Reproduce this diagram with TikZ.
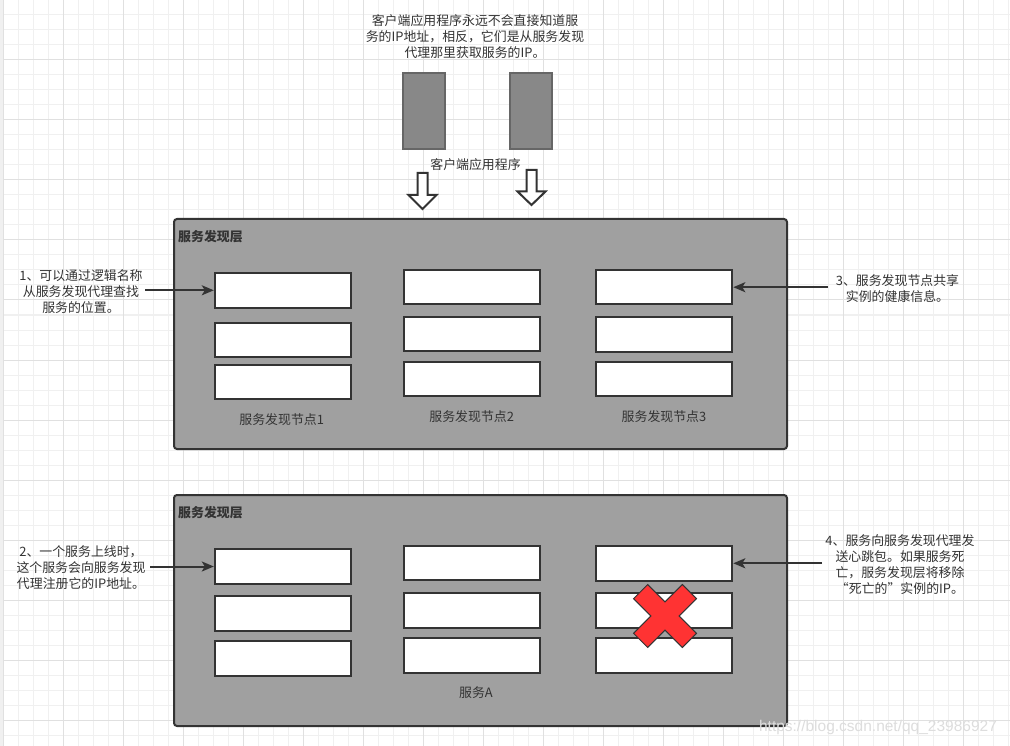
\documentclass[tikz,border=0pt]{standalone}
\usepackage{fontspec}
\setmainfont{Noto Sans CJK SC}
\newfontfamily\wmfont{Liberation Sans}
\usetikzlibrary{arrows.meta}
\definecolor{ink}{HTML}{333333}
\definecolor{layerfill}{HTML}{A0A0A0}
\definecolor{clientfill}{HTML}{888888}
\definecolor{clientline}{HTML}{666666}
\definecolor{gridminor}{HTML}{F0F0F0}
\definecolor{gridmajor}{HTML}{E0E0E0}
\definecolor{xred}{HTML}{FF3333}
\definecolor{wmcol}{HTML}{DDDDDD}
\tikzset{
  gminor/.style={draw=gridminor, line width=1pt},
  gmajor/.style={draw=gridmajor, line width=1pt},
  layerbox/.style={draw=ink, fill=layerfill, line width=2pt, rounded corners=3pt, minimum width=613pt, minimum height=230pt, inner sep=0pt},
  inst/.style={draw=ink, fill=white, line width=2pt, minimum width=136pt, minimum height=34.5pt, inner sep=0pt},
  client/.style={draw=clientline, fill=clientfill, line width=2pt, minimum width=42pt, minimum height=76pt, inner sep=0pt},
  txt/.style={text=ink, font=\fontsize{12.9}{16}\selectfont, align=center, inner sep=0pt},
  titletxt/.style={text=ink, font=\bfseries\fontsize{12.9}{16}\selectfont, inner sep=0pt, anchor=west},
  hollow/.style={draw=ink, fill=white, line width=2pt, line join=miter},
  conn/.style={draw=ink, line width=2pt, -{Stealth[length=12pt,width=10pt,inset=3pt]}},
  redx/.style={draw=ink, fill=xred, line width=1pt, line join=miter},
  wm/.style={text=wmcol, font=\wmfont\fontsize{15.5}{18}\selectfont, inner sep=0pt}
}
\begin{document}
\begin{tikzpicture}[x=1pt,y=-1pt]
\useasboundingbox (0,0) rectangle (1010,746);
\fill[white] (0,0) rectangle (1010,746);
% grid
\foreach \x in {3,18,...,1008} \draw[gminor] (\x,0) -- (\x,746);
\foreach \y in {0,15,...,745} \draw[gminor] (0,\y) -- (1010,\y);
\foreach \x in {3,63,...,1008} \draw[gmajor] (\x,0) -- (\x,746);
\foreach \y in {0,60,...,745} \draw[gmajor] (0,\y) -- (1010,\y);
\fill[gridminor] (0,0) rectangle (3,746);

% top note
\node[txt] (note) at (475,36.7) {客户端应用程序永远不会直接知道服\\务的IP地址，相反，它们是从服务发现\\代理那里获取服务的IP。};

% clients
\node[client] (cl1) at (424,111) {};
\node[client] (cl2) at (531,111) {};
\node[txt] (cllabel) at (475.5,165) {客户端应用程序};

% hollow arrows
\draw[hollow] (417.5,173) -- (427.5,173) -- (427.5,195) -- (436.5,195) -- (422.5,209) -- (408.5,195) -- (417.5,195) -- cycle;
\draw[hollow] (526.5,170) -- (536.5,170) -- (536.5,191.5) -- (545.5,191.5) -- (531.5,205) -- (517.5,191.5) -- (526.5,191.5) -- cycle;

% upper layer
\node[layerbox] (L1) at (480.5,334) {};
\node[titletxt] (L1t) at (178,236.5) {服务发现层};
\node[inst] (a1) at (282.8,290.3) {};
\node[inst] (a2) at (282.8,340.2) {};
\node[inst] (a3) at (282.8,382.2) {};
\node[inst] (b1) at (471.5,287.2) {};
\node[inst] (b2) at (471.5,334.2) {};
\node[inst] (b3) at (471.5,379.2) {};
\node[inst] (c1) at (664.3,287.2) {};
\node[inst] (c2) at (664.3,334.3) {};
\node[inst] (c3) at (664.3,379.2) {};
\node[txt] (n1) at (281.7,420) {服务发现节点1};
\node[txt] (n2) at (471.7,416.7) {服务发现节点2};
\node[txt] (n3) at (664,416.7) {服务发现节点3};

% lower layer
\node[layerbox, minimum height=231pt] (L2) at (480.5,610.5) {};
\node[titletxt] (L2t) at (178,512.5) {服务发现层};
\node[inst] (d1) at (282.8,566.5) {};
\node[inst] (d2) at (282.8,613.5) {};
\node[inst] (d3) at (282.8,658.4) {};
\node[inst] (e1) at (471.5,563.2) {};
\node[inst] (e2) at (471.5,610.3) {};
\node[inst] (e3) at (471.5,655.3) {};
\node[inst] (f1) at (664.3,563.3) {};
\node[inst] (f2) at (664.3,610.5) {};
\node[inst] (f3) at (664.3,655.5) {};
\node[txt] (svcA) at (476,693) {服务A};

% red X
\begin{scope}[shift={(665,616)}, rotate=45]
\draw[redx] (10,34.5) -- (10,10) -- (34.5,10) -- (34.5,-10) -- (10,-10) -- (10,-34.5) -- (-10,-34.5) -- (-10,-10) -- (-34.5,-10) -- (-34.5,10) -- (-10,10) -- (-10,34.5) -- cycle;
\end{scope}

% annotations
\node[txt] (t1) at (81,292) {1、可以通过逻辑名称\\从服务发现代理查找\\服务的位置。};
\coordinate (s1) at (145,290.3);
\draw[conn] (s1) -- (a1.west);

\node[txt] (t3) at (897.5,288.7) {3、服务发现节点共享\\实例的健康信息。};
\coordinate (s3) at (828,287.2);
\draw[conn] (s3) -- (c1.east);

\node[txt] (t2) at (81,567.7) {2、一个服务上线时，\\这个服务会向服务发现\\代理注册它的IP地址。};
\coordinate (s2) at (150,566.5);
\draw[conn] (s2) -- (d1.west);

\node[txt] (t4) at (900,565) {4、服务向服务发现代理发\\送心跳包。如果服务死\\亡，服务发现层将移除\\“死亡的”实例的IP。};
\coordinate (s4) at (822,563.3);
\draw[conn] (s4) -- (f1.east);

% watermark
\node[wm] (wmk) at (878,727) {https://blog.csdn.net/qq\_23986927};
\end{tikzpicture}
\end{document}
